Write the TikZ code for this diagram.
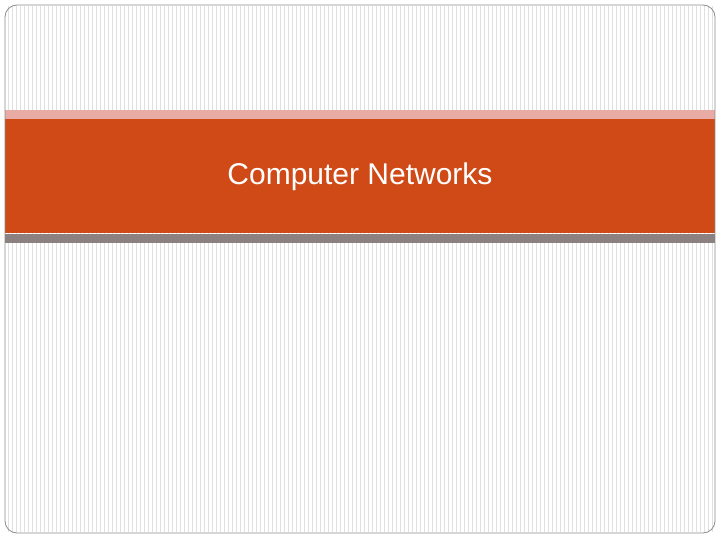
\documentclass[tikz,border=0pt]{standalone}
\usepackage{fontspec}
\setmainfont{Liberation Sans}
\begin{document}
\begin{tikzpicture}[x=1pt,y=-1pt,
  stripe/.style={draw=black!12,line width=0.6pt},
  frame/.style={draw=black!45,line width=0.8pt,rounded corners=12pt}]
\useasboundingbox (0,0) rectangle (720,540);
\fill[white] (0,0) rectangle (720,540);
\foreach \x in {8,12,...,712} \draw[stripe] (\x,6) -- (\x,532);
\fill[white] (0,0) rectangle (720,4);
\fill[color={rgb,255:red,232;green,172;blue,164}] (5,110) rectangle (715,119);
\fill[color={rgb,255:red,208;green,74;blue,24}] (5,119) rectangle (715,233);
\fill[color={rgb,255:red,140;green,128;blue,128}] (5,234) rectangle (715,243);
\draw[frame] (5,5) rectangle (715,533);
\node[text=white,font=\fontsize{30}{36}\selectfont] (title) at (360,177) {Computer Networks};
\end{tikzpicture}
\end{document}
